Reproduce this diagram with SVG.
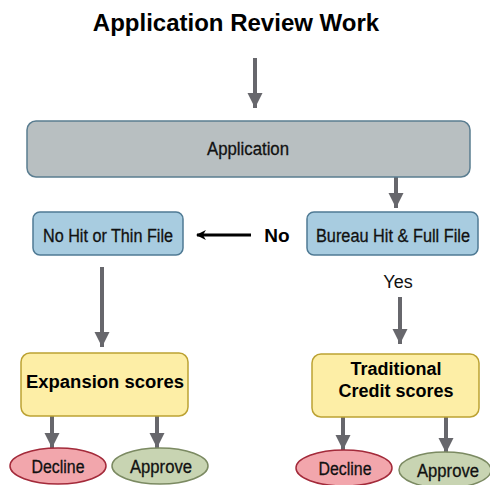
<svg xmlns="http://www.w3.org/2000/svg" width="490" height="485" viewBox="0 0 490 485">
  <defs>
    <marker id="head" viewBox="0 0 10 10" refX="10" refY="5" markerWidth="3.8" markerHeight="3.8" orient="auto" markerUnits="strokeWidth">
      <path d="M0,0 L10,5 L0,10 Z" fill="#67676c"/>
    </marker>
    <marker id="headBlack" viewBox="0 0 10 10" refX="9" refY="5" markerWidth="4" markerHeight="3.3" orient="auto" markerUnits="strokeWidth">
      <path d="M0,0 L10,5 L0,10 L3,5 Z" fill="#000"/>
    </marker>
  </defs>
  <style>
    text { font-family: "Liberation Sans", Arial, sans-serif; fill: #111; text-anchor: middle; }
    .title { font-size: 24px; font-weight: bold; fill: #000; }
    .lbl { font-size: 18px; stroke: #111; stroke-width: 0.3; }
    .bold { font-weight: bold; fill: #000; stroke: none; }
    .gray { fill: #b8bfc1; stroke: #5a7d90; stroke-width: 1.5; }
    .blue { fill: #a8cce0; stroke: #4f7a94; stroke-width: 1.5; }
    .yellow { fill: #fdeea6; stroke: #bca233; stroke-width: 1.5; }
    .decline { fill: #f2a6ac; stroke: #a32a3a; stroke-width: 1.5; }
    .approve { fill: #c8d4b2; stroke: #7b8a62; stroke-width: 1.5; }
    .conn { stroke: #67676c; stroke-width: 4; fill: none; marker-end: url(#head); }
    .connBlack { stroke: #000; stroke-width: 3; fill: none; marker-end: url(#headBlack); }
  </style>

  <text class="title" x="236" y="31">Application Review Work</text>

  <g id="connectors">
    <line class="conn" x1="255" y1="58" x2="255" y2="108"/>
    <line class="conn" x1="396" y1="177" x2="396" y2="208"/>
    <line class="connBlack" x1="251" y1="235" x2="197" y2="235"/>
    <line class="conn" x1="102" y1="267" x2="102" y2="347"/>
    <line class="conn" x1="400" y1="297" x2="400" y2="344"/>
    <line class="conn" x1="52" y1="416" x2="52" y2="448"/>
    <line class="conn" x1="157" y1="416" x2="157" y2="448"/>
    <line class="conn" x1="343" y1="417" x2="343" y2="450"/>
    <line class="conn" x1="446" y1="417" x2="446" y2="453"/>
    <text class="lbl bold" x="277" y="242" style="font-size:19px">No</text>
    <text class="lbl" x="398" y="288" style="stroke:none">Yes</text>
  </g>

  <g id="application">
    <rect class="gray" x="27" y="121" width="443" height="56" rx="9"/>
    <text class="lbl" x="248" y="155" textLength="82" lengthAdjust="spacingAndGlyphs">Application</text>
  </g>

  <g id="no-hit">
    <rect class="blue" x="33" y="212" width="150" height="43" rx="7"/>
    <text class="lbl" x="108" y="242" textLength="130" lengthAdjust="spacingAndGlyphs">No Hit or Thin File</text>
  </g>

  <g id="bureau-hit">
    <rect class="blue" x="307" y="212" width="171" height="43" rx="7"/>
    <text class="lbl" x="393" y="242" textLength="154" lengthAdjust="spacingAndGlyphs">Bureau Hit &amp; Full File</text>
  </g>

  <g id="expansion-scores">
    <rect class="yellow" x="21" y="353" width="167" height="63" rx="9"/>
    <text class="lbl bold" x="105" y="388" textLength="158" lengthAdjust="spacingAndGlyphs">Expansion scores</text>
  </g>

  <g id="traditional-scores">
    <rect class="yellow" x="312" y="354" width="167" height="63" rx="9"/>
    <text class="lbl bold" x="396" y="375">Traditional</text>
    <text class="lbl bold" x="396" y="397">Credit scores</text>
  </g>

  <g id="decline-left">
    <ellipse class="decline" cx="58" cy="466" rx="48" ry="18"/>
    <text class="lbl" x="58" y="473" textLength="53" lengthAdjust="spacingAndGlyphs">Decline</text>
  </g>

  <g id="approve-left">
    <ellipse class="approve" cx="160" cy="466" rx="48" ry="18"/>
    <text class="lbl" x="161" y="473" textLength="62" lengthAdjust="spacingAndGlyphs">Approve</text>
  </g>

  <g id="decline-right">
    <ellipse class="decline" cx="344" cy="468" rx="48" ry="18"/>
    <text class="lbl" x="345" y="475" textLength="53" lengthAdjust="spacingAndGlyphs">Decline</text>
  </g>

  <g id="approve-right">
    <ellipse class="approve" cx="445" cy="470" rx="46" ry="18"/>
    <text class="lbl" x="448" y="477" textLength="62" lengthAdjust="spacingAndGlyphs">Approve</text>
  </g>
</svg>
